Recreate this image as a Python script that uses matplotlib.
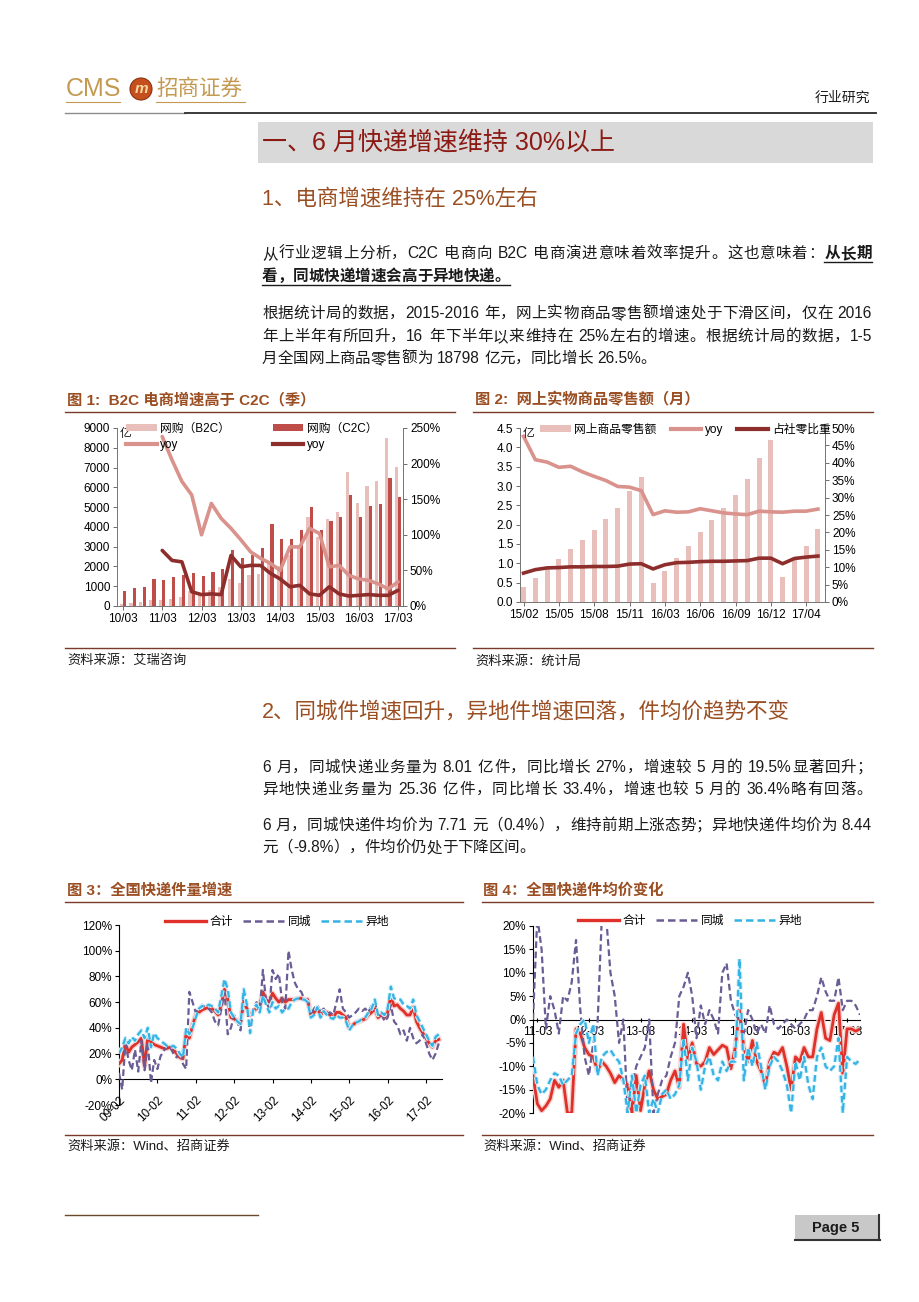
import re
import numpy as np
import matplotlib
matplotlib.use('Agg')
import matplotlib.pyplot as plt
from matplotlib.lines import Line2D
from matplotlib.patches import Rectangle, Ellipse, Patch
import matplotlib.patheffects as pe
from matplotlib.ticker import FuncFormatter

plt.rcParams['font.family'] = ['Liberation Sans', 'Noto Sans CJK SC']
plt.rcParams['axes.unicode_minus'] = False

# ---------------- data ----------------
# fig 1: quarterly, 10/03 .. 17/03
q_ticklabels = ['10/03', '11/03', '12/03', '13/03', '14/03', '15/03', '16/03', '17/03']
b2c_gmv = [100, 150, 200, 300, 280, 350, 450, 750, 650, 800, 950, 1350, 1150, 1550, 1600,
           2200, 2000, 2600, 2950, 4500, 3500, 4400, 4750, 6750, 5200, 6050, 6300, 8500, 7050]
c2c_gmv = [750, 900, 950, 1350, 1300, 1450, 1550, 1650, 1500, 1700, 1850, 2850, 2450, 2600, 2950,
           4150, 3400, 3400, 3850, 5000, 3850, 4300, 4500, 5600, 4500, 5050, 5150, 6450, 5500]
# yoy starts at 11/03
b2c_yoy = [238, 205, 175, 156, 100, 144, 123, 109, 93, 76, 67, 60, 50, 83, 83, 109, 102,
           55, 57, 43, 38, 36, 31, 24, 34]
c2c_yoy = [78, 64, 62, 20, 16, 17, 16, 71, 55, 57, 57, 46, 38, 27, 29, 17, 15, 27, 17,
           14, 15, 16, 15, 15, 22]

# fig 2: monthly, 15/02 .. 17/05 (Jan-Feb combined)
m_labels = ['15/02', '15/03', '15/04', '15/05', '15/06', '15/07', '15/08', '15/09', '15/10',
            '15/11', '15/12', '16/02', '16/03', '16/04', '16/05', '16/06', '16/07', '16/08',
            '16/09', '16/10', '16/11', '16/12', '17/02', '17/03', '17/04', '17/05']
online_sales = [0.38, 0.62, 0.85, 1.1, 1.37, 1.6, 1.85, 2.15, 2.43, 2.87, 3.24, 0.5, 0.8,
                1.13, 1.45, 1.8, 2.12, 2.42, 2.78, 3.17, 3.73, 4.18, 0.64, 1.1, 1.45, 1.88]
online_yoy = [47.6, 40.9, 40.2, 38.7, 39.0, 37.4, 36.1, 34.9, 33.2, 33.0, 32.0, 25.1, 26.2,
              25.8, 25.9, 26.8, 26.2, 25.6, 25.3, 25.1, 26.1, 25.9, 25.8, 26.1, 26.1, 26.7]
online_share = [8.3, 9.3, 9.8, 9.9, 10.1, 10.1, 10.2, 10.2, 10.3, 10.9, 11.0, 9.5, 10.7,
                11.3, 11.4, 11.6, 11.7, 11.7, 11.8, 11.9, 12.6, 12.6, 11.0, 12.5, 12.9, 13.2]

# fig 3: monthly volume growth, 09-02 .. 17-06
vol_ticklabels = ['09-02', '10-02', '11-02', '12-02', '13-02', '14-02', '15-02', '16-02', '17-02']
vol_total = [12, 15, 28, 21, 25, 27, 29, 32, 10, 33, 29,
             27, 26, 25, 24, 24, 25, 23, 20, 17, 16, 36, 32,
             42, 50, 52, 54, 55, 56, 55, 53, 50, 58, 70, 62,
             48, 47, 45, 44, 60, 55, 50, 53, 55, 57, 68, 62,
             60, 67, 63, 60, 63, 60, 62, 62, 62, 63, 63, 62,
             62, 50, 52, 55, 50, 53, 52, 50, 48, 52, 52, 50,
             48, 40, 42, 44, 45, 46, 47, 50, 52, 55, 48, 50,
             48, 52, 65, 57, 58, 55, 53, 50, 50, 56, 45, 40,
             36, 32, 28, 25, 30, 31]
vol_local = [5, -8, 28, 15, 7, 23, 6, 30, 7, 29, -3,
             15, 8, 18, 22, 26, 25, 20, 17, 22, 12, 8, 68,
             60, 52, 55, 58, 56, 55, 52, 45, 42, 55, 68, 35,
             40, 50, 45, 38, 65, 55, 36, 55, 60, 52, 85, 60,
             55, 85, 78, 82, 60, 55, 100, 85, 75, 70, 68, 62,
             60, 50, 55, 58, 52, 55, 50, 52, 50, 60, 70, 55,
             52, 48, 50, 52, 55, 53, 55, 52, 58, 60, 50, 52,
             45, 48, 58, 45, 42, 35, 38, 30, 40, 32, 28, 30,
             35, 28, 20, 15, 20, 28]
vol_remote = [20, 25, 32, 28, 33, 30, 35, 38, 32, 40, 25,
              36, 32, 30, 28, 26, 25, 26, 24, 20, 17, 40, 35,
              40, 48, 55, 57, 56, 58, 57, 55, 52, 65, 78, 70,
              52, 48, 45, 43, 70, 58, 36, 55, 58, 52, 65, 58,
              52, 60, 55, 57, 52, 55, 55, 60, 62, 63, 62, 62,
              60, 48, 50, 56, 48, 53, 50, 48, 47, 50, 48, 48,
              45, 38, 42, 44, 45, 47, 48, 52, 55, 62, 50, 52,
              50, 55, 72, 63, 62, 62, 58, 57, 55, 62, 50, 45,
              40, 35, 30, 26, 33, 35]

# fig 4: monthly average price change, 11-02 .. 17-06
price_ticklabels = ['11-03', '12-03', '13-03', '14-03', '15-03', '16-03', '17-03']
price_total = [-12, -18, -19.5, -18.5, -17, -13, -14.5, -13, -20, -20, -2,
               -3, -6, -7.5, -8, -11, -9, -10, -11.5, -13.5, -12, -13, -14,
               -20, -12, -19.5, -14, -11, -15, -17, -16.5, -16, -13, -11, -14.5,
               -1, -8.5, -5, -9.5, -10, -9, -6, -7.5, -6.5, -5.5, -6, -10.5,
               -6, 2, -6, -9, -4.5, -9, -11, -14, -9, -7, -7.5, -6,
               -10, -15, -8, -9, -6, -8, -8, -2, 1.5, -4, -4.5, 1,
               3.5, -11.5, -2, -2, -2.5, -2]
price_local = [0, 22, 15, -2, 5, 2, -3, 5, 4, 8, 17,
               2, -8, -12, -5, -1, 22, 22, 10, 5, -5, 0, -20,
               -14, -10, -8, -6, 0, -20, -16, -13, -12, -8, -5, 5,
               7, 10, 5, -4, 3, -1, 2, 0, -3, 10, 12, 4,
               1, 0, -3, 2, 0, -3, -1, -3, 3, -1, -2, -1,
               0, -1, -2, -1, 0, 2, 2, 5, 9, 6, 4, 4,
               9, 2, 4, 4, 3, 1]
price_remote = [-8, -14, -16, -15, -13, -11.5, -12, -14, -13, -12, -3,
                -1, 0, -5, -1, -12, -8, -7, -6.5, -8, -9, -13, -20,
                -12, -20, -14, -12, -20, -17, -20, -16, -15, -17, -16, -14,
                -4, -13, -6, -9, -15, -10, -8, -12, -13, -9, -11, -9,
                -9, 13, -13, -6, -10, -5, -10, -15, -10, -8, -9, -11,
                -14, -20, -9, -13, -8, -14, -17, -8, -6, -10, -11, -10,
                -4, -20, -8, -9, -9.5, -8.5]

# ---------------- layout helpers ----------------
W, H = 920, 1302
fig = plt.figure(figsize=(9.2, 13.02), dpi=100)
TXT = '#1a1a1a'
BROWN = '#9A4E22'
RULE = '#7A3A2A'


def add_ax(l, t, r, b):
    return fig.add_axes([l / W, 1 - b / H, (r - l) / W, (b - t) / H])


def hline(x0, x1, y, color, lw=1.0):
    fig.add_artist(Line2D([x0 / W, x1 / W], [1 - y / H, 1 - y / H], color=color, lw=lw))


def ftext(x, y, s, **kw):
    return fig.text(x / W, 1 - y / H, s, **kw)


renderer = fig.canvas.get_renderer()


def put_line(y, parts, justify, x0=262, x1=872, size=11.2):
    toks = []
    for s, b, u in parts:
        for tk in re.findall(r'[A-Za-z0-9.%\-]+| |\S', s):
            toks.append((tk, b, u))
    objs, widths = [], []
    for tk, b, u in toks:
        if tk == ' ':
            objs.append(None)
            widths.append(size * 100 / 72 * 0.28)
            continue
        t = ftext(0, y, tk, fontsize=size, color=TXT, va='baseline', ha='left',
                  fontweight='bold' if b else 'normal')
        objs.append(t)
        widths.append(t.get_window_extent(renderer).width)
    gap = (x1 - x0 - sum(widths)) / (len(toks) - 1) if justify else 0
    x = x0
    ul = []
    for (tk, b, u), t, w in zip(toks, objs, widths):
        if t is not None:
            t.set_x(x / W)
        if u:
            ul.append((x, x + w))
        x += w + gap
    if ul:
        hline(ul[0][0], ul[-1][1], y + 4, TXT, 1.0)


pct = FuncFormatter(lambda v, p: f'{v:.0f}%')

# ---------------- header ----------------
ftext(66, 89, 'CMS', fontsize=18, color='#C49A52', va='center')
fig.add_artist(Ellipse((141 / W, 1 - 89 / H), 22 / W, 22 / H, transform=fig.transFigure,
                       facecolor='#C5501E', edgecolor='#8A3010', lw=0.8))
ftext(141, 89, 'm', fontsize=11, color='#F3D9A0', fontweight='bold', style='italic',
      ha='center', va='center')
ftext(156, 89, '招商证券', fontsize=15.5, color='#C49A52', va='center')
hline(66, 120, 102, '#C49A52', 0.8)
hline(156, 245, 102, '#C49A52', 0.8)
ftext(870, 98, '行业研究', fontsize=10, color=TXT, ha='right', va='center')
hline(65, 185, 113, '#8C8C8C', 1.0)
hline(185, 876, 113, '#2B2B2B', 1.3)

# section title box
fig.add_artist(Rectangle((258 / W, 1 - 163 / H), (873 - 258) / W, 41 / H,
                         transform=fig.transFigure, facecolor='#D9D9D9', edgecolor='none'))
ftext(262, 143, '一、6 月快递增速维持 30%以上', fontsize=18, color='#8C1A14', va='center')
ftext(262, 199, '1、电商增速维持在 25%左右', fontsize=15.5, color=BROWN, va='center')

put_line(258, [('从行业逻辑上分析，C2C 电商向 B2C 电商演进意味着效率提升。这也意味着：', False, False),
               ('从长期', True, True)], True)
put_line(281, [('看，同城快递增速会高于异地快递。', True, True)], False)
put_line(318, [('根据统计局的数据，2015-2016 年，网上实物商品零售额增速处于下滑区间，仅在 2016', False, False)], True)
put_line(341, [('年上半年有所回升，16 年下半年以来维持在 25%左右的增速。根据统计局的数据，1-5', False, False)], True)
put_line(363, [('月全国网上商品零售额为 18798 亿元，同比增长 26.5%。', False, False)], False)

# ---------------- fig 1 ----------------
ftext(67, 400, '图 1:  B2C 电商增速高于 C2C（季）', fontsize=11, color=BROWN,
      fontweight='bold', va='center')
hline(65, 455, 412, RULE, 1.0)
ax1 = add_ax(117, 428, 403, 606)
x1 = np.arange(len(b2c_gmv))
ax1.bar(x1 - 0.17, b2c_gmv, width=0.32, color='#E8BFBA', zorder=2)
ax1.bar(x1 + 0.17, c2c_gmv, width=0.32, color='#BF4E4A', zorder=2)
ax1.set_xlim(-0.6, 28.5)
ax1.set_ylim(0, 9000)
ax1.set_yticks(range(0, 9001, 1000))
ax1.set_xticks(x1[::4])
ax1.set_xticklabels(q_ticklabels)
ax1b = ax1.twinx()
ax1b.plot(x1[4:], b2c_yoy, color='#D9928C', lw=2.6, solid_capstyle='round')
ax1b.plot(x1[4:], c2c_yoy, color='#8E2E2C', lw=2.6, solid_capstyle='round')
ax1b.set_ylim(0, 250)
ax1b.set_yticks(range(0, 251, 50))
ax1b.yaxis.set_major_formatter(pct)
for a in (ax1, ax1b):
    a.tick_params(labelsize=8.5, length=3, width=0.6, color='#555555', pad=2)
    a.spines['top'].set_visible(False)
    for s in ('left', 'right', 'bottom'):
        a.spines[s].set_color('#777777')
        a.spines[s].set_linewidth(0.7)
ftext(120, 434, '亿', fontsize=8.5, color=TXT, va='center')
fig.legend(handles=[Patch(facecolor='#E8BFBA'), Line2D([], [], color='#D9928C', lw=3),
                    Patch(facecolor='#BF4E4A'), Line2D([], [], color='#8E2E2C', lw=3)],
           labels=['网购（B2C）', 'yoy', '网购（C2C）', 'yoy'], ncol=2,
           loc='upper left', bbox_to_anchor=(126 / W, 1 - 423 / H), frameon=False,
           fontsize=8.5, handlelength=2.6, handleheight=0.55, handletextpad=0.3,
           labelspacing=0.35, columnspacing=3.6, borderpad=0, borderaxespad=0)

# ---------------- fig 2 ----------------
ftext(475, 400, '图 2:  网上实物商品零售额（月）', fontsize=11, color=BROWN,
      fontweight='bold', va='center')
hline(473, 873, 412, RULE, 1.0)
ax2 = add_ax(520, 428, 825, 602)
x2 = np.arange(len(online_sales))
ax2.bar(x2, online_sales, width=0.42, color='#E8BFBA', zorder=2)
ax2.set_xlim(-0.3, 25.6)
ax2.set_ylim(0, 4.5)
ax2.set_yticks(np.arange(0, 4.51, 0.5))
ax2.yaxis.set_major_formatter(FuncFormatter(lambda v, p: f'{v:.1f}'))
ax2.set_xticks(x2[::3])
ax2.set_xticklabels(m_labels[::3])
ax2b = ax2.twinx()
ax2b.plot(x2, online_yoy, color='#D9928C', lw=2.6)
ax2b.plot(x2, online_share, color='#8E2E2C', lw=2.6)
ax2b.set_ylim(0, 50)
ax2b.set_yticks(range(0, 51, 5))
ax2b.yaxis.set_major_formatter(pct)
for a in (ax2, ax2b):
    a.tick_params(labelsize=8.5, length=3, width=0.6, color='#555555', pad=2)
    a.spines['top'].set_visible(False)
    for s in ('left', 'right', 'bottom'):
        a.spines[s].set_color('#777777')
        a.spines[s].set_linewidth(0.7)
ftext(523, 434, '亿', fontsize=8.5, color=TXT, va='center')
fig.legend(handles=[Patch(facecolor='#E8BFBA'), Line2D([], [], color='#D9928C', lw=3),
                    Line2D([], [], color='#8E2E2C', lw=3)],
           labels=['网上商品零售额', 'yoy', '占社零比重'], ncol=3,
           loc='upper left', bbox_to_anchor=(540 / W, 1 - 424 / H), frameon=False,
           fontsize=8.5, handlelength=2.6, handleheight=0.55, handletextpad=0.3,
           columnspacing=1.2, borderpad=0, borderaxespad=0)

ftext(67, 661, '资料来源：艾瑞咨询', fontsize=9.5, color=TXT, va='center')
hline(65, 455, 648, RULE, 1.0)
ftext(475, 661, '资料来源：统计局', fontsize=9.5, color=TXT, va='center')
hline(473, 873, 648, RULE, 1.0)

# ---------------- section 2 ----------------
ftext(262, 712, '2、同城件增速回升，异地件增速回落，件均价趋势不变', fontsize=15.5, color=BROWN, va='center')
put_line(772, [('6 月，同城快递业务量为 8.01 亿件，同比增长 27%，增速较 5 月的 19.5%显著回升；', False, False)], True)
put_line(794, [('异地快递业务量为 25.36 亿件，同比增长 33.4%，增速也较 5 月的 36.4%略有回落。', False, False)], True)
put_line(830, [('6 月，同城快递件均价为 7.71 元（0.4%），维持前期上涨态势；异地快递件均价为 8.44', False, False)], True)
put_line(852, [('元（-9.8%），件均价仍处于下降区间。', False, False)], False)

RED = '#E0302A'
PURPLE = '#6A5C94'
CYAN = '#34B3E4'
glow_r = [pe.Stroke(linewidth=4.0, foreground='#F7D3CF'), pe.Normal()]
glow_c = [pe.Stroke(linewidth=3.2, foreground='#D3F0FB'), pe.Normal()]


def line_legend(x, y):
    fig.legend(handles=[Line2D([], [], color=RED, lw=2.4),
                        Line2D([], [], color=PURPLE, lw=1.8, dashes=(3, 1.6)),
                        Line2D([], [], color=CYAN, lw=1.8, dashes=(3, 1.6))],
               labels=['合计', '同城', '异地'], ncol=3, loc='center left',
               bbox_to_anchor=(x / W, 1 - y / H), frameon=False, fontsize=8.5,
               handlelength=3.5, handletextpad=0.3, columnspacing=0.8,
               borderpad=0, borderaxespad=0)


# ---------------- fig 3 ----------------
ftext(67, 890, '图 3：全国快递件量增速', fontsize=11, color=BROWN, fontweight='bold', va='center')
hline(65, 463, 902, RULE, 1.0)
ax3 = add_ax(119, 925, 442, 1105)
x3 = np.arange(len(vol_total))
ax3.plot(x3, vol_total, color=RED, lw=2.0, path_effects=glow_r, zorder=3)
ax3.plot(x3, vol_local, color=PURPLE, lw=1.6, dashes=(3, 1.6), zorder=4)
ax3.plot(x3, vol_remote, color=CYAN, lw=1.6, dashes=(3, 1.6), path_effects=glow_c, zorder=5)
ax3.set_xlim(0, 101)
ax3.set_ylim(-20, 120)
ax3.set_yticks(range(-20, 121, 20))
ax3.yaxis.set_major_formatter(pct)
ax3.spines['top'].set_visible(False)
ax3.spines['right'].set_visible(False)
ax3.spines['bottom'].set_position(('data', 0))
ax3.set_xticks(x3[::12])
ax3.tick_params(axis='x', labelbottom=False, length=3, width=0.8)
ax3.tick_params(axis='y', labelsize=8.5, length=3, width=0.8, pad=2)
sec3 = ax3.secondary_xaxis('bottom')
sec3.set_xticks(x3[::12])
sec3.set_xticklabels(vol_ticklabels, rotation=45, ha='right', rotation_mode='anchor', fontsize=8.5)
sec3.tick_params(length=0, pad=-8)
sec3.spines['bottom'].set_visible(False)
line_legend(165, 922)
ftext(67, 1147, '资料来源：Wind、招商证券', fontsize=9.5, color=TXT, va='center')
hline(65, 463, 1135, RULE, 1.0)

# ---------------- fig 4 ----------------
ftext(483, 890, '图 4：全国快递件均价变化', fontsize=11, color=BROWN, fontweight='bold', va='center')
hline(482, 873, 902, RULE, 1.0)
ax4 = add_ax(533, 926, 860, 1113)
x4 = np.arange(len(price_total))
ax4.plot(x4, price_total, color=RED, lw=2.0, path_effects=glow_r, zorder=3)
ax4.plot(x4, price_local, color=PURPLE, lw=1.6, dashes=(3, 1.6), zorder=4)
ax4.plot(x4, price_remote, color=CYAN, lw=1.6, dashes=(3, 1.6), path_effects=glow_c, zorder=5)
ax4.set_xlim(0, 76)
ax4.set_ylim(-20, 20)
ax4.set_yticks(range(-20, 21, 5))
ax4.yaxis.set_major_formatter(pct)
ax4.spines['top'].set_visible(False)
ax4.spines['right'].set_visible(False)
ax4.spines['bottom'].set_position(('data', 0))
ax4.set_xticks(x4[1::12])
ax4.set_xticklabels(price_ticklabels)
ax4.tick_params(axis='x', labelsize=8.5, length=3, width=0.8, direction='inout', pad=3)
ax4.tick_params(axis='y', labelsize=8.5, length=3, width=0.8, pad=2)
line_legend(578, 921)
ftext(483, 1147, '资料来源：Wind、招商证券', fontsize=9.5, color=TXT, va='center')
hline(482, 873, 1135, RULE, 1.0)

# ---------------- footer ----------------
hline(65, 258, 1215, '#6B4A2A', 1.0)
fig.add_artist(Rectangle((795 / W, 1 - 1240 / H), 83 / W, 25 / H, transform=fig.transFigure,
                         facecolor='#C8C8C8', edgecolor='none'))
hline(795, 880, 1240, '#333333', 1.5)
fig.add_artist(Line2D([879 / W, 879 / W], [1 - 1240 / H, 1 - 1215 / H], color='#333333', lw=1.5))
ftext(836, 1228, 'Page 5', fontsize=10.5, fontweight='bold', color=TXT, ha='center', va='center')

fig.savefig('out.png', dpi=100)
